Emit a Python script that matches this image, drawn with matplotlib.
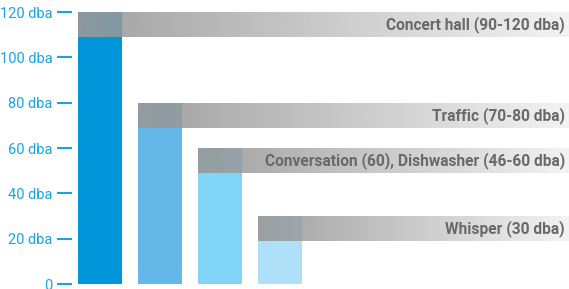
import numpy as np
import matplotlib
matplotlib.use("Agg")
import matplotlib.pyplot as plt

# ---- data ----
labels = ["Concert hall (90-120 dba)", "Traffic (70-80 dba)",
          "Conversation (60), Dishwasher (46-60 dba)", "Whisper (30 dba)"]
values = [120, 80, 60, 30]
tick_values = [0, 20, 40, 60, 80, 100, 120]
tick_labels = ["0", "20 dba", "40 dba", "60 dba", "80 dba", "100 dba", "120 dba"]

# ---- style ----
bar_colors = ["#0096d9", "#64b8e8", "#80d4f6", "#aee0fa"]
tick_color = "#1ba3de"
text_color = "#68696b"
band_depth = 11          # dba covered by the grey band
bar_width = 0.733

W, H, DPI = 569, 289, 100
fig = plt.figure(figsize=(W / DPI, H / DPI), dpi=DPI)

ax_left_px, y0_px, y120_px = 72, 284, 12
ax = fig.add_axes([ax_left_px / W, (H - y0_px) / H, 1 - ax_left_px / W, (y0_px - y120_px) / H])

px_per_unit = 60.0
x0_center_px = 100
xmin = (ax_left_px - x0_center_px) / px_per_unit
xmax = (W - x0_center_px) / px_per_unit
ax.set_xlim(xmin, xmax)
ax.set_ylim(0, 120)

x = np.arange(len(values))
ax.bar(x, values, width=bar_width, color=bar_colors, zorder=1)

# gradient bands
n = 256
for xi, v, lab in zip(x, values, labels):
    left = xi - bar_width / 2
    alpha = np.linspace(0.92, 0.12, n)
    img = np.zeros((1, n, 4))
    img[..., 0:3] = 0.60
    img[..., 3] = alpha
    ax.imshow(img, extent=[left, xmax, v - band_depth, v], aspect="auto",
              interpolation="bilinear", zorder=2)
    ax.text(xmax - 4 / px_per_unit, v - band_depth / 2, lab, ha="right", va="center",
            color=text_color, fontsize=11.2, fontweight="bold", family="Roboto", zorder=3)

ax.set_xlim(xmin, xmax)
ax.set_ylim(0, 120)

for s in ax.spines.values():
    s.set_visible(False)
ax.set_xticks([])
ax.set_yticks(tick_values)
ax.set_yticklabels(tick_labels, color=tick_color, fontsize=10.5, family="Roboto")
ax.tick_params(axis="y", direction="out", length=11, width=1.5, color=tick_color, pad=3)
ax.patch.set_alpha(0)

fig.savefig("out.png", dpi=DPI)
